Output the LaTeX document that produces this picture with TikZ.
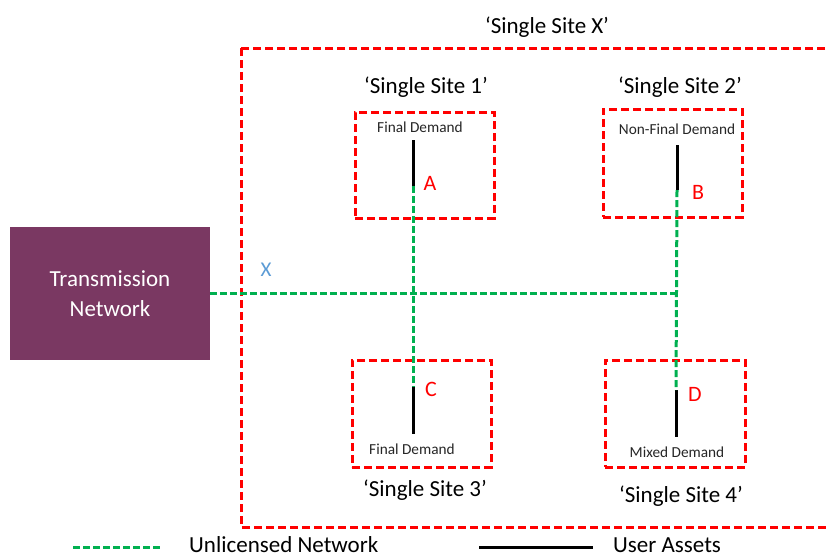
\documentclass[tikz,border=0pt]{standalone}
\usepackage{fontspec}
\setmainfont{Carlito}
\definecolor{tnpurple}{HTML}{7A3862}
\definecolor{sitered}{HTML}{FF0000}
\definecolor{netgreen}{HTML}{00B050}
\definecolor{xblue}{HTML}{5B9BD5}
\tikzset{
  reddash/.style={draw=sitered, line width=3pt, dash pattern=on 8pt off 4pt},
  greendash/.style={draw=netgreen, line width=3pt, dash pattern=on 7pt off 3pt},
  asset/.style={draw=black, line width=3pt},
  sitebox/.style={reddash, minimum width=139pt, inner sep=0pt},
  bigtxt/.style={font=\fontsize{23}{27}\selectfont, inner sep=0pt},
  smalltxt/.style={font=\fontsize{15.3}{18}\selectfont, inner sep=0pt, text=black!85},
  letter/.style={font=\fontsize{22}{26}\selectfont, text=sitered, inner sep=0pt},
}
\begin{document}
\begin{tikzpicture}[x=1pt,y=-1pt]
\useasboundingbox (0,0) rectangle (829,558);
% transmission network
\node[fill=tnpurple, minimum width=200pt, minimum height=133pt, inner sep=0pt, text=white, align=center, font=\fontsize{23}{30}\selectfont] (tn) at (110,293.5) {Transmission\\Network};
% big site
\draw[reddash] (241,48) rectangle (840,527);
\node[bigtxt] (tx) at (547,27) {‘Single Site X’};
% site boxes
\node[sitebox, minimum height=106pt] (s1) at (424.5,165) {};
\node[sitebox, minimum height=108pt] (s2) at (672.5,163) {};
\node[sitebox, minimum height=107pt] (s3) at (421.5,413.5) {};
\node[sitebox, minimum width=140pt, minimum height=107pt] (s4) at (675,413.5) {};
\node[bigtxt] (t1) at (426,87) {‘Single Site 1’};
\node[bigtxt] (t2) at (680,87) {‘Single Site 2’};
\node[bigtxt] (t3) at (425,490) {‘Single Site 3’};
\node[bigtxt] (t4) at (681,496) {‘Single Site 4’};
% demand labels
\node[smalltxt] (d1) at (420,127) {Final Demand};
\node[smalltxt] (d2) at (677,129) {Non-Final Demand};
\node[smalltxt] (d3) at (412,449) {Final Demand};
\node[smalltxt] (d4) at (677,452) {Mixed Demand};
% points
\coordinate (a1) at (413,140);
\coordinate (a) at (413,186);
\coordinate (b1) at (677,145);
\coordinate (b) at (677,190);
\coordinate (c) at (413,387);
\coordinate (c1) at (413,434);
\coordinate (d) at (676,390);
\coordinate (d1b) at (676,437);
\coordinate (j2) at (677,293.5);
% user assets
\draw[asset] (a1) -- (a);
\draw[asset] (b1) -- (b);
\draw[asset] (c) -- (c1);
\draw[asset] (d) -- (d1b);
% unlicensed network
\draw[greendash] (tn.east) -- (j2);
\draw[greendash] (a) -- (c);
\draw[greendash] (b) -- (d);
% letters
\node[letter] (la) at (430,183) {A};
\node[letter] (lb) at (698,192) {B};
\node[letter] (lc) at (431,389) {C};
\node[letter] (ld) at (695,394) {D};
\node[font=\fontsize{21}{25}\selectfont, text=xblue, inner sep=0pt] (lx) at (266,270) {X};
% legend
\coordinate (lg1) at (73,547);
\coordinate (lg2) at (162,547);
\draw[greendash] (lg1) -- (lg2);
\node[bigtxt, anchor=west] (lgt1) at (189,545) {Unlicensed Network};
\coordinate (lb1) at (479,547);
\coordinate (lb2) at (593,547);
\draw[asset] (lb1) -- (lb2);
\node[bigtxt, anchor=west] (lgt2) at (613,545) {User Assets};
\end{tikzpicture}
\end{document}
